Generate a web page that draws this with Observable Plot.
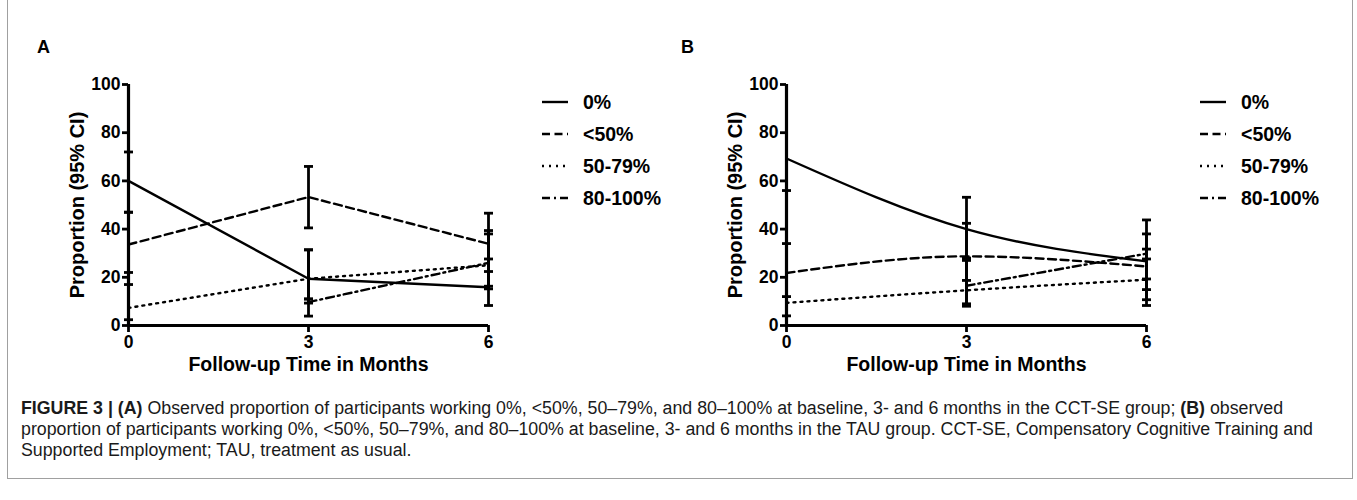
<!DOCTYPE html>
<html><head><meta charset="utf-8">
<script src="https://cdn.jsdelivr.net/npm/d3@7"></script>
<script src="https://cdn.jsdelivr.net/npm/@observablehq/plot@0.6"></script>
<style>
html,body{margin:0;padding:0;background:#fff;}
body{width:1357px;height:500px;overflow:hidden;position:relative;font-family:"Liberation Sans",Arial,sans-serif;color:#000;}
#frame{position:absolute;left:7px;top:-3px;width:1346px;height:482px;border:1.5px solid #a0a0a0;box-sizing:border-box;}
.panel{position:absolute;top:0;}
.legend{position:absolute;top:80px;}
.plab{position:absolute;top:37px;font-weight:bold;font-size:18px;}
#caption{position:absolute;left:21px;top:398px;font-family:"Liberation Sans",Arial,sans-serif;font-size:18px;line-height:21px;color:#1a1a1a;white-space:nowrap;transform-origin:0 0;}
#caption div{width:max-content;}
</style></head><body>
<div id="frame"></div>
<div class="plab" style="left:37px">A</div>
<div class="plab" style="left:681px">B</div>
<div id="panelA" class="panel" style="left:0px"></div>
<div id="panelB" class="panel" style="left:658px"></div>
<div id="legendA" class="legend" style="left:530px"></div>
<div id="legendB" class="legend" style="left:1188px"></div>
<div id="caption"></div>
<script>
// ---------- data ----------
const months = [0, 3, 6];
const seriesNames = ["0%", "<50%", "50-79%", "80-100%"];
const yTicks = [0, 20, 40, 60, 80, 100];
const xTitle = "Follow-up Time in Months";
const yTitle = "Proportion (95% CI)";

// Panel A (CCT-SE)
const A_0      = [60, 19.4, 15.9];
const A_lt50   = [33.6, 53.3, 33.9];
const A_5079   = [7.3, 19.4, 25];
const A_80100  = [null, 9.7, 26];
const A_0_lo     = [47, 11, 8.3],    A_0_hi     = [72, 31.4, 27.6];
const A_lt50_lo  = [22, 40.5, 22.4], A_lt50_hi  = [47, 66, 46.6];
const A_5079_lo  = [2.4, 9.3, 15.2], A_5079_hi  = [17, 31.4, 39.4];
const A_80100_lo = [null, 3.9, 16.3], A_80100_hi = [null, 11, 38];

// Panel B (TAU)
const B_0      = [69.3, 40, 26.6];
const B_lt50   = [21.8, 28.7, 24.5];
const B_5079   = [9.4, 14.6, 19];
const B_80100  = [null, 16.5, 29.8];
const B_0_lo     = [56, 27, 14.9],   B_0_hi     = [null, 53.2, 38];
const B_lt50_lo  = [12, 18.7, 10.7], B_lt50_hi  = [34, 42.4, 31.7];
const B_5079_lo  = [4, 8, 8.3],      B_5079_hi  = [null, 28, 27.6];
const B_80100_lo = [null, 9, 19.3],  B_80100_hi = [null, 27.5, 43.8];

const captionLines = [
  ["FIGURE 3 | (A)", " Observed proportion of participants working 0%, <50%, 50–79%, and 80–100% at baseline, 3- and 6 months in the CCT-SE group; ", "(B)", " observed"],
  ["", "proportion of participants working 0%, <50%, 50–79%, and 80–100% at baseline, 3- and 6 months in the TAU group. CCT-SE, Compensatory Cognitive Training and"],
  ["", "Supported Employment; TAU, treatment as usual."]
];

// ---------- styles ----------
const dashes = [null, "8,4.5", "2,5", "8,4,2,4"];

function buildRows(vals, los, his) {
  const rows = [];
  seriesNames.forEach((s, k) => {
    months.forEach((m, i) => {
      rows.push({series: s, k, month: m, value: vals[k][i], lo: los[k][i], hi: his[k][i]});
    });
  });
  return rows;
}

const capSymbol = {draw(ctx) { ctx.moveTo(-4.5, 0); ctx.lineTo(4.5, 0); }};

function panel(rows, curve) {
  const valid = rows.filter(d => d.value != null);
  const caps = [];
  valid.forEach(d => {
    if (d.lo != null) caps.push({month: d.month, v: d.lo});
    if (d.hi != null) caps.push({month: d.month, v: d.hi});
  });
  const lines = seriesNames.map((s, k) => Plot.line(valid.filter(d => d.series === s), {
    x: "month", y: "value", stroke: "black", strokeWidth: 2.4,
    strokeDasharray: dashes[k] || undefined, curve
  }));
  return Plot.plot({
    width: 540, height: 390,
    marginLeft: 128, marginRight: 52, marginTop: 84, marginBottom: 65,
    x: {domain: [0, 6]},
    y: {domain: [0, 100]},
    style: {overflow: "visible", fontFamily: "Liberation Sans, Arial, sans-serif", background: "transparent"},
    marks: [
      ...lines,
      Plot.ruleX(valid, {x: "month", y1: d => d.lo ?? d.value, y2: d => d.hi ?? d.value, stroke: "black", strokeWidth: 2.8}),
      Plot.dot(caps, {x: "month", y: "v", symbol: capSymbol, stroke: "black", strokeWidth: 2.8, fill: "none"}),
      Plot.ruleX([0], {stroke: "black", strokeWidth: 3.2}),
      Plot.ruleY([0], {stroke: "black", strokeWidth: 3.2}),
      Plot.axisX({ticks: months, tickSize: 7, tickPadding: 3, fontSize: 17.5, fontWeight: "bold", strokeWidth: 2.8, label: null, tickFormat: d => String(d)}),
      Plot.axisY({ticks: yTicks, tickSize: 6, tickPadding: 2, fontSize: 17.5, fontWeight: "bold", strokeWidth: 2.8, label: null, tickFormat: d => String(d)}),
      Plot.text([xTitle], {frameAnchor: "bottom", dy: 45, fontSize: 19.5, fontWeight: "bold", fill: "black"}),
      Plot.text([yTitle], {frameAnchor: "left", textAnchor: "middle", rotate: -90, dx: -51, fontSize: 20, fontWeight: "bold", fill: "black"})
    ]
  });
}

const rowsA = buildRows([A_0, A_lt50, A_5079, A_80100], [A_0_lo, A_lt50_lo, A_5079_lo, A_80100_lo], [A_0_hi, A_lt50_hi, A_5079_hi, A_80100_hi]);
const rowsB = buildRows([B_0, B_lt50, B_5079, B_80100], [B_0_lo, B_lt50_lo, B_5079_lo, B_80100_lo], [B_0_hi, B_lt50_hi, B_5079_hi, B_80100_hi]);

document.getElementById("panelA").appendChild(panel(rowsA, "linear"));
document.getElementById("panelB").appendChild(panel(rowsB, "monotone-x"));

function legend(id) {
  const svg = d3.select("#" + id).append("svg").attr("width", 170).attr("height", 140);
  const g = svg.selectAll("g").data(seriesNames).join("g")
    .attr("transform", (d, i) => `translate(0,${22 + 32 * i})`);
  g.append("line").attr("x1", 12).attr("x2", 38).attr("y1", 0).attr("y2", 0)
    .attr("stroke", "black").attr("stroke-width", 2.4)
    .attr("stroke-dasharray", (d, i) => dashes[i]);
  g.append("text").attr("x", 53).attr("y", 0).attr("dy", "0.36em")
    .attr("font-family", "Liberation Sans, Arial, sans-serif")
    .attr("font-size", 19.5).attr("font-weight", "bold").text(d => d);
}
legend("legendA");
legend("legendB");

// caption
const cap = d3.select("#caption");
captionLines.forEach((parts, li) => {
  const div = cap.append("div").attr("id", "cl" + li);
  parts.forEach((p, j) => {
    if (!p) return;
    div.append("span").style("font-weight", j % 2 === 0 ? "bold" : "normal").text(p);
  });
});
// condensed look: horizontally compress so line 2 spans the reference width
const w = document.getElementById("cl1").getBoundingClientRect().width;
document.getElementById("caption").style.transform = `scaleX(${1292 / w})`;
</script>
</body></html>
